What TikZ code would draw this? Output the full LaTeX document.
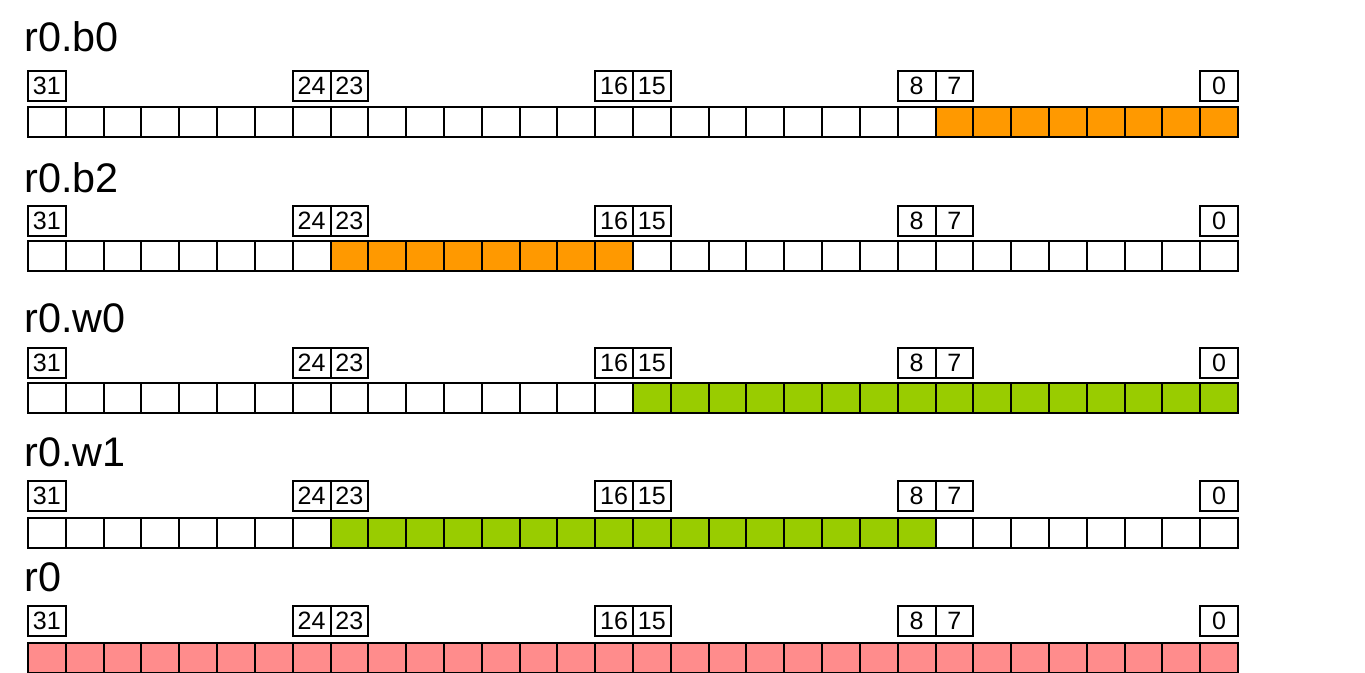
\documentclass[tikz,border=0pt]{standalone}
\usepackage{fontspec}
\setmainfont{Liberation Sans}
\definecolor{bytecol}{HTML}{FF9900}
\definecolor{wordcol}{HTML}{99CC00}
\definecolor{regcol}{HTML}{FF8C8C}
\tikzset{
  regtitle/.style={anchor=base west,inner sep=0pt,font=\fontsize{31}{31}\selectfont},
  bitnum/.style={draw,line width=1.5pt,minimum width=28.36pt,minimum height=22.5pt,
    inner sep=0pt,anchor=north west,font=\fontsize{18.8}{18.8}\selectfont},
  bitcell/.style={draw,line width=1.5pt,minimum width=28.36pt,minimum height=22.5pt,
    inner sep=0pt,anchor=north west},
}
\begin{document}
\begin{tikzpicture}[x=0.75pt,y=-0.75pt]
  \useasboundingbox (0,0) rectangle (1365,673);
  % name/title/baseline/number row/cell row/high bit/low bit/colour
  \foreach \reg/\txt/\ty/\ny/\cy/\hi/\lo/\col in {
      b0/r0.b0/52/70/106/7/0/bytecol,
      b2/r0.b2/193/205/240/23/16/bytecol,
      w0/r0.w0/333/347/382/15/0/wordcol,
      w1/r0.w1/467/480/517/23/8/wordcol,
      r0/r0/592/605/642/31/0/regcol}{
    \node[regtitle] (\reg-title) at (24,\ty) {\txt};
    \foreach \b in {31,24,23,16,15,8,7,0}
      \node[bitnum] (\reg-n\b) at ({27+(31-\b)*37.8125},\ny) {\b};
    \foreach \b in {0,...,31}{
      \def\fc{white}
      \ifnum\b>\hi\else\ifnum\b<\lo\else\def\fc{\col}\fi\fi
      \node[bitcell,fill=\fc] (\reg-c\b) at ({27+(31-\b)*37.8125},\cy) {};
    }
  }
\end{tikzpicture}
\end{document}
